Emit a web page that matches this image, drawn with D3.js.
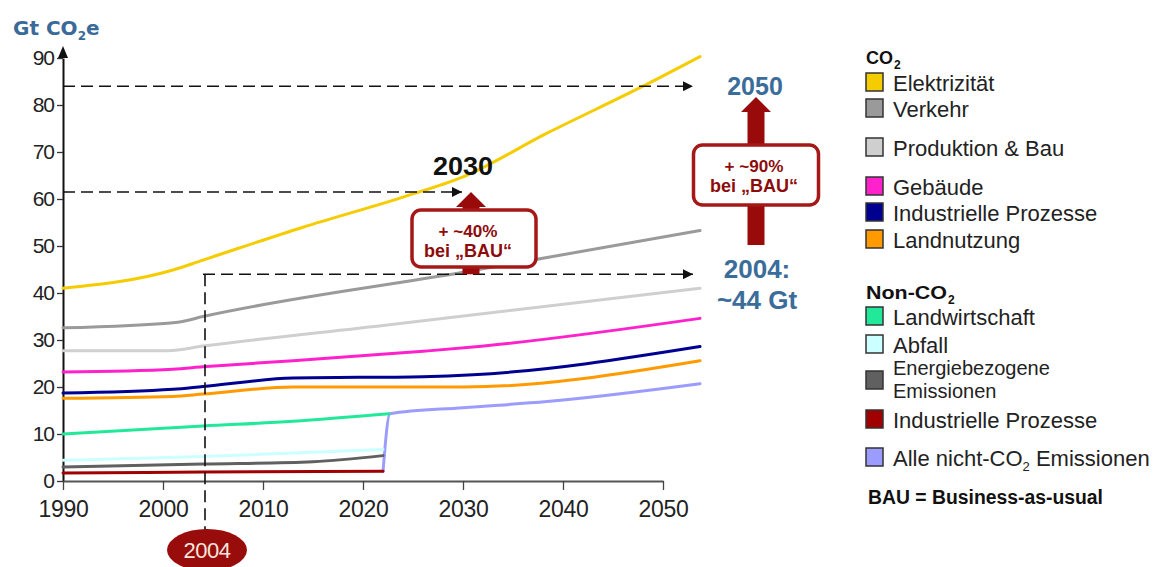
<!DOCTYPE html>
<html><head><meta charset="utf-8">
<script src="https://cdn.jsdelivr.net/npm/d3@7"></script>
<style>
body{margin:0;background:#fff;}
svg{display:block;font-family:"Liberation Sans",Arial,sans-serif;}
</style>
</head><body>
<script>
// Emission paths per source, [year, Gt CO2e]
const elektrizitaet   = [[1990,41],[2001,44.9],[2004,47],[2014,54],[2024,60.4],[2030,64.7],[2038.4,74],[2048,84],[2053.7,90.3]];
const verkehr         = [[1990,32.6],[2001.5,33.8],[2004,35],[2030,44.4],[2053.7,53.3]];
const produktionBau   = [[1990,27.7],[2000.5,27.7],[2004,28.7],[2022,33.1],[2053.7,41]];
const gebaeude        = [[1990,23.2],[2001,23.8],[2004,24.3],[2013,25.6],[2026,27.6],[2031,28.5],[2053.7,34.6]];
const industrieCO2    = [[1990,18.7],[2001,19.5],[2004,20.1],[2013,21.9],[2026,22.2],[2031,22.6],[2053.7,28.6]];
const landnutzung     = [[1990,17.6],[2001,18.0],[2004,18.5],[2013,20],[2030,20],[2053.7,25.6]];
const landwirtschaft  = [[1990,10],[2004,11.7],[2013,12.7],[2022.6,14.3]];
const abfall          = [[1990,4.4],[2004,5.2],[2022,6.7]];
const energieNonCO2   = [[1990,3],[2004,3.6],[2015,4.1],[2022,5.4]];
const industrieNonCO2 = [[1990,1.7],[2004,1.9],[2022,2.1]];
const alleNonCO2      = [[2022,2.0],[2022.7,14.3],[2030,15.6],[2038.4,16.9],[2053.7,20.7]];

const co2Names    = ["Elektrizität","Verkehr","Produktion & Bau","Gebäude","Industrielle Prozesse","Landnutzung"];
const co2Colors   = ["#f5cc00","#9a9a9a","#cfcfcf","#ff22cc","#000090","#ff9a00"];
const co2Values   = [elektrizitaet, verkehr, produktionBau, gebaeude, industrieCO2, landnutzung];

const nonCo2Names  = ["Landwirtschaft","Abfall","Energiebezogene|Emissionen","Industrielle Prozesse","Alle nicht-CO₂ Emissionen"];
const nonCo2Colors = ["#22e89a","#ccffff","#606060","#a00000","#9c9cff"];
const nonCo2Values = [landwirtschaft, abfall, energieNonCO2, industrieNonCO2, alleNonCO2];

const yTicks = [0,10,20,30,40,50,60,70,80,90];
const xTicks = [1990,2000,2010,2020,2030,2040,2050];

// dashed reference levels: value, start year, end year
const guideValues = [84, 61.5, 44];
const guideStart  = [1990, 1990, 2004];
const guideEnd    = [2053, 2029.9, 2053];

const baseYear = 2004;
const boxLabels = [["+ ~40%","bei „BAU“"],["+ ~90%","bei „BAU“"]];

const W = 1154, H = 567;
const svg = d3.select("body").append("svg").attr("width", W).attr("height", H);
svg.append("rect").attr("width", W).attr("height", H).attr("fill", "#fff");

const x = d3.scaleLinear().domain([1990, 2050]).range([63, 663]);
const y = d3.scaleLinear().domain([0, 90]).range([481, 58]);

const defs = svg.append("defs");
defs.append("marker").attr("id","arrowBlack").attr("viewBox","0 0 10 10")
  .attr("refX",10).attr("refY",5).attr("markerWidth",10).attr("markerHeight",10)
  .attr("markerUnits","userSpaceOnUse").attr("orient","auto")
  .append("path").attr("d","M0,0L10,5L0,10Z").attr("fill","#111");

// axes
const yAxis = svg.append("g").attr("transform",`translate(${x(1990)},0)`)
  .call(d3.axisLeft(y).tickValues(yTicks).tickSize(6).tickSizeOuter(0).tickPadding(3));
yAxis.select(".domain").attr("stroke","#111").attr("stroke-width",2);
yAxis.selectAll(".tick line").attr("stroke","#333").attr("stroke-width",1.3);
yAxis.selectAll(".tick text").attr("font-size",21).attr("fill","#222")
  .attr("letter-spacing",-1).attr("font-family","Liberation Sans, Arial, sans-serif");
svg.append("line").attr("x1",x(1990)).attr("x2",x(1990)).attr("y1",y(90)).attr("y2",56)
  .attr("stroke","#111").attr("stroke-width",2);
svg.append("path").attr("d",`M${x(1990)},46L${x(1990)-5},58L${x(1990)+5},58Z`).attr("fill","#111");

const xAxis = svg.append("g").attr("transform",`translate(0,${y(0)})`)
  .call(d3.axisBottom(x).tickValues(xTicks).tickFormat(d3.format("d")).tickSize(9).tickSizeOuter(0).tickPadding(11));
xAxis.select(".domain").attr("stroke","#555").attr("stroke-width",2);
xAxis.selectAll(".tick line").attr("stroke","#444").attr("stroke-width",1.3);
xAxis.selectAll(".tick text").attr("font-size",23).attr("fill","#222")
  .attr("letter-spacing",-0.3).attr("font-family","Liberation Sans, Arial, sans-serif");

// unit label
const unit = svg.append("text").attr("x",13).attr("y",35).attr("font-size",20)
  .attr("font-family","DejaVu Sans, sans-serif").attr("font-weight","bold").attr("fill","#3a6a98");
unit.append("tspan").text("Gt CO");
unit.append("tspan").text("2").attr("font-size",12).attr("dy",5);
unit.append("tspan").text("e").attr("dy",-5);

// emission lines
const line = d3.line().x(d => x(d[0])).y(d => y(d[1])).curve(d3.curveMonotoneX);
const allValues = co2Values.concat(nonCo2Values);
const allColors = co2Colors.concat(nonCo2Colors);
// draw non-CO2 first so the CO2 paths sit on top
const drawOrder = [10,9,8,7,6,5,4,3,2,1,0];
svg.append("g").selectAll("path").data(drawOrder).join("path")
  .attr("d", i => line(allValues[i]))
  .attr("fill","none").attr("stroke", i => allColors[i])
  .attr("stroke-width",3).attr("stroke-linejoin","round").attr("stroke-linecap","round");

// dashed guides
const guides = svg.append("g");
guides.selectAll("line").data(guideValues).join("line")
  .attr("x1",(d,i) => x(guideStart[i])).attr("x2",(d,i) => x(guideEnd[i]))
  .attr("y1",d => y(d)).attr("y2",d => y(d))
  .attr("stroke","#111").attr("stroke-width",1.6).attr("stroke-dasharray","12,6")
  .attr("marker-end","url(#arrowBlack)");
guides.append("line").attr("x1",x(baseYear)+2).attr("x2",x(baseYear)+2)
  .attr("y1",y(guideValues[2])).attr("y2",533)
  .attr("stroke","#111").attr("stroke-width",1.6).attr("stroke-dasharray","12,6");

// base-year badge
svg.append("ellipse").attr("cx",x(baseYear)+4).attr("cy",550).attr("rx",40).attr("ry",21)
  .attr("fill","#990c0c");
svg.append("text").attr("x",x(baseYear)+4).attr("y",558).attr("text-anchor","middle")
  .attr("font-size",22).attr("fill","#f6e6dc").attr("letter-spacing",-0.5).text(baseYear);

// red growth arrows with label boxes
const red = "#990a0a";
function upArrow(cx, yTop, yBottom) {
  const sw = 8.5, hw = 15, hh = 15;
  return `M${cx},${yTop}L${cx+hw},${yTop+hh}L${cx+sw},${yTop+hh}L${cx+sw},${yBottom}` +
         `L${cx-sw},${yBottom}L${cx-sw},${yTop+hh}L${cx-hw},${yTop+hh}Z`;
}
function labelBox(cx, tx, yTop, w, h, lines) {
  svg.append("rect").attr("x",cx-w/2).attr("y",yTop).attr("width",w).attr("height",h)
    .attr("rx",9).attr("fill","#fff").attr("stroke","#a51818").attr("stroke-width",3.5);
  svg.append("text").attr("x",tx).attr("y",yTop+27).attr("text-anchor","middle")
    .attr("font-size",17).attr("font-weight","bold").attr("fill","#8e0b0b")
    .attr("textLength",59).attr("lengthAdjust","spacingAndGlyphs").text(lines[0]);
  svg.append("text").attr("x",tx).attr("y",yTop+47).attr("text-anchor","middle")
    .attr("font-size",18).attr("font-weight","bold").attr("fill","#8e0b0b")
    .attr("textLength",88).attr("lengthAdjust","spacingAndGlyphs").text(lines[1]);
}
const a1x = x(2030) + 8;
svg.append("path").attr("d", upArrow(a1x, y(guideValues[1]), y(guideValues[2]))).attr("fill",red);
labelBox(a1x + 3, a1x - 3, 210, 124, 57, boxLabels[0]);
svg.append("text").attr("x",463).attr("y",175).attr("text-anchor","middle")
  .attr("font-size",26).attr("font-weight","bold").attr("fill","#111")
  .attr("textLength",60).attr("lengthAdjust","spacingAndGlyphs").text("2030");

const a2x = 756;
svg.append("path").attr("d", upArrow(a2x, 97, 245)).attr("fill",red);
labelBox(a2x, a2x - 2, 145, 125, 60, boxLabels[1]);

const blue = "#3a6d9a";
svg.append("text").attr("x",755).attr("y",95).attr("text-anchor","middle")
  .attr("font-size",25).attr("font-weight","bold").attr("fill",blue).text("2050");
svg.append("text").attr("x",757).attr("y",278).attr("text-anchor","middle")
  .attr("font-size",26).attr("font-weight","bold").attr("fill",blue).text("2004:");
svg.append("text").attr("x",757).attr("y",309).attr("text-anchor","middle")
  .attr("font-size",26).attr("font-weight","bold").attr("fill",blue).text("~44 Gt");

// legend
const lg = svg.append("g");
const boxX = 866, textX = 893;
function header(yBase, label, width) {
  lg.append("text").attr("x",boxX).attr("y",yBase).attr("font-size",18)
    .attr("font-weight","bold").attr("fill","#111")
    .attr("textLength",width).attr("lengthAdjust","spacingAndGlyphs").text(label);
  lg.append("text").attr("x",boxX + width + 1).attr("y",yBase + 5).attr("font-size",12)
    .attr("font-weight","bold").attr("fill","#111").text("2");
}
function items(names, colors, rows) {
  names.forEach((n, i) => {
    const cy = rows[i];
    lg.append("rect").attr("x",boxX).attr("y",cy-9).attr("width",17).attr("height",18)
      .attr("fill",colors[i]).attr("stroke","#333").attr("stroke-width",1.5);
    const parts = n.split("|");
    if (parts.length === 1) {
      const t = lg.append("text").attr("x",textX).attr("y",cy+9).attr("font-size",22).attr("fill","#222");
      if (n.includes("CO₂")) {
        const [a, b] = n.split("CO₂");
        t.append("tspan").text(a + "CO");
        t.append("tspan").text("2").attr("font-size",13).attr("dy",5);
        t.append("tspan").text(b).attr("dy",-5);
      } else t.text(n);
    } else {
      // two-line entry, set a little smaller so the lines stay clear of each other
      parts.forEach((p, k) => lg.append("text").attr("x",textX).attr("y",cy-5+k*23)
        .attr("font-size",20).attr("fill","#222").text(p));
    }
  });
}
header(64, "CO", 27);
items(co2Names, co2Colors, [82,108,147,186,212,239]);
header(299, "Non-CO", 81);
items(nonCo2Names, nonCo2Colors, [316,344,380,419,457]);
lg.append("text").attr("x",boxX + 2).attr("y",504).attr("font-size",20).attr("font-weight","bold")
  .attr("fill","#111").attr("textLength",235).attr("lengthAdjust","spacingAndGlyphs")
  .text("BAU = Business-as-usual");
</script>
</body></html>
